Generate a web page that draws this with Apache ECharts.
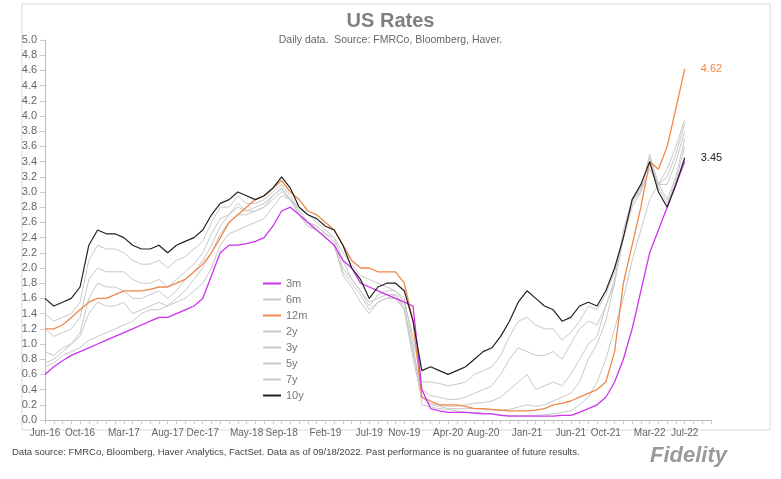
<!DOCTYPE html>
<html><head><meta charset="utf-8">
<script src="https://cdn.jsdelivr.net/npm/echarts@6/dist/echarts.min.js"></script>
<style>body{margin:0;background:#fff}#c{width:781px;height:479px}</style>
</head><body><div id="c"></div>
<script>
const mon=['Jan','Feb','Mar','Apr','May','Jun','Jul','Aug','Sep','Oct','Nov','Dec'];
const categories=[];
for(let i=0;i<77;i++){const m=(5+i)%12,y=16+Math.floor((5+i)/12);categories.push(mon[m]+'-'+y);}
const tickLabels=['Jun-16','Oct-16','Mar-17','Aug-17','Dec-17','May-18','Sep-18','Feb-19','Jul-19','Nov-19','Apr-20','Aug-20','Jan-21','Jun-21','Oct-21','Mar-22','Jul-22'];
const labelIdx=[0,4,9,14,18,23,27,32,37,41,46,50,55,60,64,69,73];

const r3m=[0.6,0.7,0.78,0.85,0.9,0.95,1.0,1.05,1.1,1.15,1.2,1.25,1.3,1.35,1.35,1.4,1.45,1.5,1.6,1.9,2.2,2.3,2.3,2.32,2.35,2.4,2.55,2.75,2.8,2.7,2.6,2.5,2.4,2.3,2.1,2.0,1.8,1.75,1.7,1.65,1.6,1.55,1.5,0.4,0.15,0.12,0.1,0.1,0.1,0.09,0.08,0.08,0.06,0.05,0.05,0.05,0.05,0.05,0.05,0.06,0.06,0.1,0.15,0.2,0.3,0.5,0.8,1.2,1.7,2.2,2.5,2.8,3.1,3.4];
const r6m=[0.7,0.75,0.85,0.9,0.95,1.05,1.1,1.15,1.2,1.25,1.3,1.4,1.45,1.45,1.5,1.55,1.6,1.7,1.8,2.0,2.3,2.45,2.5,2.55,2.6,2.65,2.8,2.95,2.9,2.8,2.7,2.6,2.5,2.4,2.2,2.05,1.9,1.85,1.8,1.75,1.7,1.6,1.0,0.2,0.17,0.15,0.14,0.12,0.1,0.1,0.09,0.08,0.07,0.06,0.06,0.06,0.06,0.07,0.08,0.1,0.12,0.2,0.3,0.5,0.8,1.2,1.6,2.1,2.5,2.9,3.1,3.3,3.6,3.95];
const r12m=[1.2,1.2,1.25,1.35,1.45,1.55,1.6,1.6,1.65,1.7,1.7,1.7,1.72,1.75,1.75,1.8,1.85,1.95,2.05,2.2,2.4,2.6,2.7,2.8,2.9,2.95,3.05,3.15,3.0,2.9,2.75,2.7,2.6,2.5,2.3,2.1,2.0,2.0,1.95,1.95,1.95,1.8,1.3,0.3,0.25,0.2,0.2,0.2,0.18,0.15,0.15,0.14,0.13,0.12,0.12,0.12,0.13,0.15,0.2,0.22,0.25,0.3,0.35,0.4,0.5,0.9,1.8,2.3,2.8,3.4,3.3,3.6,4.1,4.62];
const r2y=[0.75,0.8,0.9,1.0,1.1,1.4,1.55,1.5,1.5,1.55,1.4,1.45,1.5,1.55,1.5,1.6,1.7,1.85,2.0,2.2,2.45,2.6,2.7,2.7,2.75,2.8,2.9,3.0,2.9,2.75,2.6,2.55,2.45,2.35,2.0,1.85,1.7,1.55,1.6,1.65,1.65,1.5,0.9,0.3,0.2,0.18,0.15,0.15,0.15,0.15,0.14,0.13,0.13,0.14,0.17,0.2,0.18,0.2,0.25,0.3,0.35,0.5,0.8,1.0,1.3,1.8,2.4,2.9,3.0,3.3,3.1,3.2,3.5,3.9];
const r3y=[0.9,0.85,0.95,1.0,1.15,1.6,1.8,1.75,1.75,1.7,1.6,1.6,1.65,1.7,1.6,1.7,1.85,1.95,2.1,2.3,2.55,2.7,2.8,2.75,2.8,2.85,2.95,3.05,2.9,2.7,2.55,2.5,2.4,2.3,1.95,1.8,1.65,1.45,1.55,1.6,1.6,1.45,0.8,0.3,0.22,0.2,0.18,0.18,0.2,0.22,0.23,0.25,0.3,0.4,0.5,0.6,0.4,0.45,0.5,0.45,0.6,0.8,1.0,1.1,1.5,1.8,2.5,2.9,3.05,3.4,3.1,3.1,3.4,3.8];
const r5y=[1.2,1.1,1.15,1.2,1.35,1.85,2.0,1.95,1.95,1.95,1.85,1.8,1.8,1.85,1.75,1.85,1.95,2.05,2.2,2.45,2.65,2.7,2.85,2.75,2.75,2.8,2.95,3.05,2.9,2.7,2.55,2.5,2.4,2.3,1.9,1.75,1.55,1.4,1.55,1.6,1.65,1.45,0.9,0.4,0.32,0.3,0.27,0.27,0.3,0.35,0.4,0.45,0.6,0.8,0.95,0.9,0.85,0.85,0.9,0.8,1.0,1.2,1.3,1.25,1.5,1.85,2.4,2.8,3.0,3.5,3.1,2.9,3.2,3.7];
const r7y=[1.4,1.3,1.35,1.4,1.55,2.1,2.3,2.25,2.25,2.2,2.1,2.05,2.05,2.1,2.0,2.1,2.15,2.25,2.35,2.6,2.8,2.8,2.95,2.85,2.85,2.9,3.0,3.1,2.95,2.75,2.6,2.55,2.45,2.4,2.1,1.85,1.7,1.5,1.65,1.7,1.7,1.55,1.1,0.5,0.5,0.48,0.45,0.47,0.5,0.6,0.65,0.7,0.85,1.1,1.3,1.35,1.25,1.2,1.2,1.05,1.15,1.3,1.5,1.45,1.65,1.95,2.4,2.85,3.05,3.45,3.05,2.85,3.15,3.6];
const r10y=[1.6,1.5,1.55,1.6,1.75,2.3,2.5,2.45,2.45,2.4,2.3,2.25,2.25,2.3,2.2,2.3,2.35,2.4,2.5,2.7,2.85,2.9,3.0,2.95,2.9,2.95,3.05,3.2,3.05,2.8,2.7,2.65,2.55,2.5,2.3,2.0,1.85,1.6,1.75,1.8,1.8,1.7,1.3,0.65,0.7,0.65,0.6,0.65,0.7,0.8,0.9,0.95,1.1,1.3,1.55,1.7,1.6,1.5,1.45,1.3,1.35,1.5,1.55,1.5,1.7,2.0,2.4,2.9,3.1,3.4,3.0,2.8,3.1,3.45];

const gray='#c8c8c8';
function s(name,data,color,z,w){return {name,type:'line',data,symbol:'none',z,lineStyle:{color,width:w||1},itemStyle:{color}};}
const series=[
 s('6m',r6m,gray,2),s('2y',r2y,gray,2),s('3y',r3y,gray,2),s('5y',r5y,gray,2),s('7y',r7y,gray,2),
 Object.assign(s('12m',r12m,'#f0884a',3,1.3),{endLabel:{show:true,formatter:'{c}',color:'#f0884a',fontSize:11,offset:[8,0]}}),
 s('3m',r3m,'#cc33ee',4,1.3),
 Object.assign(s('10y',r10y,'#222222',5,1.2),{endLabel:{show:true,formatter:'{c}',color:'#222',fontSize:11,offset:[8,0]}})
];
const chart=echarts.init(document.getElementById('c'));
chart.setOption({
 animation:false,
 graphic:[
  {type:'rect',shape:{x:22,y:4,width:748,height:426},style:{fill:'none',stroke:'#d9d9d9',lineWidth:1}},
  {type:'text',left:12,top:447,style:{text:'Data source: FMRCo, Bloomberg, Haver Analytics, FactSet. Data as of 09/18/2022. Past performance is no guarantee of future results.',fill:'#444',fontSize:9.5,fontFamily:'Liberation Sans Narrow, Arial'}},
  {type:'text',left:650,top:445,style:{text:'Fidelity',fill:'#9a9a9a',fontSize:22,fontWeight:'bold',fontStyle:'italic',fontFamily:'Liberation Sans'}}
 ],
 title:{text:'US Rates',subtext:'Daily data.  Source: FMRCo, Bloomberg, Haver.',left:'center',top:6,itemGap:4,
   textStyle:{color:'#7f7f7f',fontSize:20,fontWeight:'bold',fontFamily:'Liberation Sans'},
   subtextStyle:{color:'#666',fontSize:10.5,fontFamily:'Liberation Sans'}},
 legend:{orient:'vertical',left:257,top:273,itemWidth:18,itemHeight:2,itemGap:5,
   data:['3m','6m','12m','2y','3y','5y','7y','10y'],textStyle:{color:'#777',fontSize:11,fontFamily:'Liberation Sans'}},
 grid:{left:45,right:70,top:40,bottom:59},
 xAxis:{type:'category',data:categories,boundaryGap:false,
   axisLine:{lineStyle:{color:'#bbb'}},
   axisTick:{interval:0,lineStyle:{color:'#ccc'},length:4},
   axisLabel:{interval:(i)=>labelIdx.includes(i),color:'#666',fontSize:10,fontFamily:'Liberation Sans',margin:8},
   splitLine:{show:false}},
 yAxis:{type:'value',min:0,max:5,interval:0.2,
   axisLine:{show:true,lineStyle:{color:'#bbb'}},axisTick:{show:true,lineStyle:{color:'#ccc'}},
   axisLabel:{formatter:v=>v.toFixed(1),color:'#666',fontSize:11,fontFamily:'Liberation Sans'},
   splitLine:{show:false}},
 series
});
</script></body></html>
